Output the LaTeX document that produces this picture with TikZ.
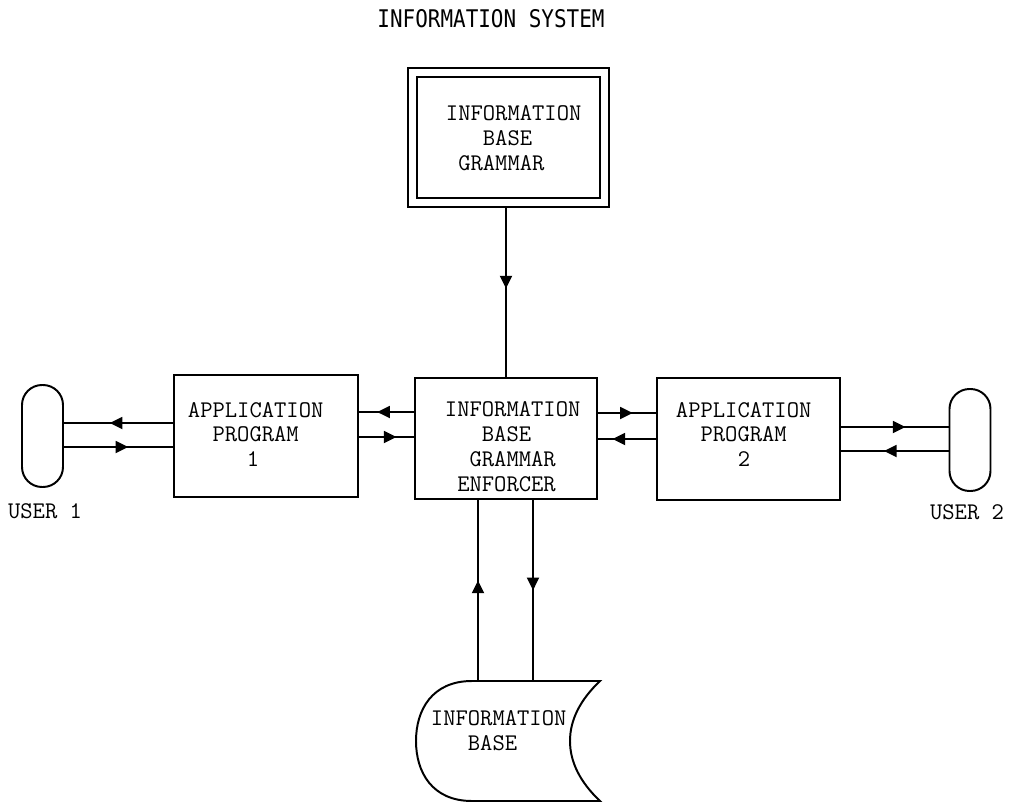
\documentclass[tikz,border=0pt]{standalone}
\usepackage{fontspec}
\usetikzlibrary{arrows.meta,decorations.markings}
\newfontfamily\titlefont{DejaVu Sans Mono}
\newlength{\pxu}
\setlength{\pxu}{0.025cm}
\tikzset{
  boxline/.style={line width=1.4pt, line join=miter},
  stepbox/.style={boxline, draw, rectangle, inner sep=0pt},
  userpill/.style={line width=1.4pt, draw, rectangle, rounded corners=20\pxu, inner sep=0pt,
    minimum width=41\pxu, minimum height=102\pxu},
  txt/.style={font=\ttfamily\fontsize{17}{17.72}\selectfont, align=left, inner sep=0pt, anchor=west},
  flow/.style={line width=1.4pt, postaction={decorate},
    decoration={markings, mark=at position #1 with {\arrow{Triangle[length=9pt,width=8.5pt]}}}}
}
\begin{document}
\begin{tikzpicture}[x=0.025cm, y=-0.025cm]
\useasboundingbox (0,0) rectangle (1009,803);

% title
\node[inner sep=0pt] (title) at (491,19)
  {\titlefont\fontsize{14.9}{18}\selectfont\scalebox{1}[1.16]{INFORMATION SYSTEM}};

% grammar (double frame)
\node[stepbox, double, double distance=4.4pt, minimum width=192\pxu, minimum height=130\pxu]
  (gram) at (508.5,137.5) {};
\node[txt] (gramtxt) at (445.7,138) {INFORMATION\\\hphantom{XXX}BASE\\\hphantom{X}GRAMMAR};

% enforcer
\node[stepbox, minimum width=182\pxu, minimum height=121\pxu] (enf) at (506,438.5) {};
\node[txt] (enftxt) at (444.7,447)
  {INFORMATION\\\hphantom{XXX}BASE\\\hphantom{XX}GRAMMAR\\\hphantom{X}ENFORCER};

% application programs
\node[stepbox, minimum width=184\pxu, minimum height=122\pxu] (app1) at (266,436) {};
\node[txt] (app1txt) at (187.7,434.5)
  {APPLICATION\\\hphantom{XX}PROGRAM\\\hspace*{59\pxu}1};
\node[stepbox, minimum width=183\pxu, minimum height=122\pxu] (app2) at (748.5,439) {};
\node[txt] (app2txt) at (675.7,434.5)
  {APPLICATION\\\hphantom{XX}PROGRAM\\\hspace*{62\pxu}2};

% users
\node[userpill] (user1) at (42.5,436) {};
\node[txt, anchor=center] (user1txt) at (45,511) {USER 1};
\node[userpill] (user2) at (970,440) {};
\node[txt, anchor=center] (user2txt) at (967,512) {USER 2};

% information base (stored data symbol)
\node[minimum width=184\pxu, minimum height=120\pxu, inner sep=0pt] (ib) at (508,741) {};
\draw[boxline] (472,681) -- (600,681)
  .. controls (580,700) and (570,720) .. (570,741)
  .. controls (570,762) and (580,782) .. (600,801)
  -- (472,801)
  .. controls (432,801) and (416,772) .. (416,741)
  .. controls (416,710) and (432,681) .. (472,681) -- cycle;
\node[txt] (ibtxt) at (430.7,730.5) {INFORMATION\\\hphantom{XXX}BASE};

% connectors
\draw[flow=0.49, shorten <=2.6pt] (enf.north |- gram.south) -- (enf.north);
\draw[flow=0.67] (enf.west |- 0,412) -- (app1.east |- 0,412);
\draw[flow=0.68] (app1.east |- 0,437) -- (enf.west |- 0,437);
\draw[flow=0.6]  (enf.east |- 0,413) -- (app2.west |- 0,413);
\draw[flow=0.75] (app2.west |- 0,439) -- (enf.east |- 0,439);
\draw[flow=0.58] (app1.west |- 0,423) -- (user1.east |- 0,423);
\draw[flow=0.59] (user1.east |- 0,447) -- (app1.west |- 0,447);
\draw[flow=0.6]  (app2.east |- 0,427) -- (user2.west |- 0,427);
\draw[flow=0.6]  (user2.west |- 0,451) -- (app2.east |- 0,451);
\draw[flow=0.555] (ib.north -| 478,0) -- (enf.south -| 478,0);
\draw[flow=0.5]  (enf.south -| 533,0) -- (ib.north -| 533,0);
\end{tikzpicture}
\end{document}
